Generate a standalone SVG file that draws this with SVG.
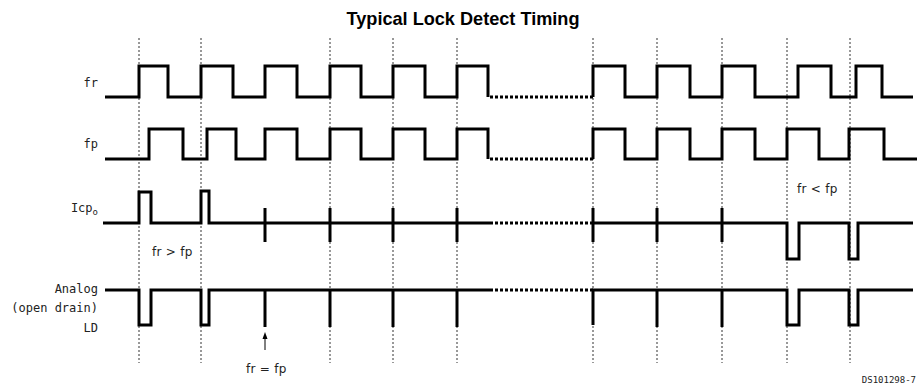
<svg xmlns="http://www.w3.org/2000/svg" width="919" height="385" viewBox="0 0 919 385">
<style>
.grid{stroke:#333;stroke-width:1;stroke-dasharray:2,2;fill:none}
.wave{stroke:#000;stroke-width:3;fill:none;stroke-linejoin:miter;stroke-linecap:butt}
.dot{stroke:#000;stroke-width:3;fill:none;stroke-dasharray:3,2}
.tick{stroke:#000;stroke-width:3;fill:none}
.lbl{font-family:"DejaVu Sans Mono","Liberation Mono",monospace;font-size:12px;fill:#222}
.ref{font-family:"DejaVu Sans Mono","Liberation Mono",monospace;font-size:9px;fill:#222}
.note{font-family:"DejaVu Sans","Liberation Sans",sans-serif;font-size:12px;fill:#222;letter-spacing:0.3px}
.title{font-family:"Liberation Sans",Arial,sans-serif;font-size:19px;font-weight:bold;fill:#000}
</style>
<text class="title" x="463" y="25" text-anchor="middle" textLength="233" lengthAdjust="spacingAndGlyphs">Typical Lock Detect Timing</text>
<g id="gridlines">
<path class="grid" d="M139,38V363M201,38V363M330,38V363M393,38V363M457,38V363M593,38V363M657,38V363M722,38V363M787,38V363M850,38V363"/>
</g>
<g id="labels">
<text class="lbl" x="98" y="87" text-anchor="end">fr</text>
<text class="lbl" x="98" y="148" text-anchor="end">fp</text>
<text class="lbl" x="98" y="212" text-anchor="end">Icp<tspan font-size="9" dy="3">o</tspan></text>
<text class="lbl" x="98" y="293" text-anchor="end">Analog</text>
<text class="lbl" x="98" y="312" text-anchor="end">(open drain)</text>
<text class="lbl" x="98" y="332" text-anchor="end">LD</text>
</g>
<g id="fr">
<path class="wave" d="M105,97H139V66H168V97H201V66H233V97H265V66H297V97H330V66H361V97H393V66H425V97H457V66H488V97"/>
<path class="dot" d="M490,97H593"/>
<path class="wave" d="M593,97V66H625V97H657V66H690V97H722V66H755V97H798V66H831V97H856V66H882V97H913"/>
</g>
<g id="fp">
<path class="wave" d="M105,159H149V129H183V159H207V129H236V159H265V129H297V159H330V129H361V159H393V129H425V159H457V129H488V159"/>
<path class="dot" d="M490,159H593"/>
<path class="wave" d="M593,159V129H625V159H657V129H690V159H722V129H755V159H787V129H819V159H849V129H884V159H917"/>
</g>
<g id="icp">
<path class="wave" d="M103,223H139V192H151V223H201V191H209V223H493"/>
<path class="dot" d="M495,223H593"/>
<path class="wave" d="M593,223H787V259H799V223H849V259H858V223H913"/>
<path class="tick" d="M265,208V242M330,208V242M393,208V242M457,208V242M593,208V242M657,208V242M722,208V242"/>
</g>
<g id="ld">
<path class="wave" d="M105,290H139V325H151V290H201V325H209V290H493"/>
<path class="dot" d="M495,290H593"/>
<path class="wave" d="M593,325V290H787V325H799V290H849V325H858V290H913"/>
<path class="tick" d="M265,290V327M330,290V327M393,290V327M457,290V327M657,290V327M722,290V327"/>
</g>
<g id="connectors">
<line x1="265" y1="350" x2="265" y2="338" stroke="#000" stroke-width="1"/>
<polygon points="265,332 262.5,339 267.5,339" fill="#000"/>
</g>
<g id="notes">
<text class="note" x="152" y="256">fr &gt; fp</text>
<text class="note" x="246" y="373">fr = fp</text>
<text class="note" x="797" y="193">fr &lt; fp</text>
<text class="ref" x="916" y="383" text-anchor="end">DS101298-7</text>
</g>
</svg>
